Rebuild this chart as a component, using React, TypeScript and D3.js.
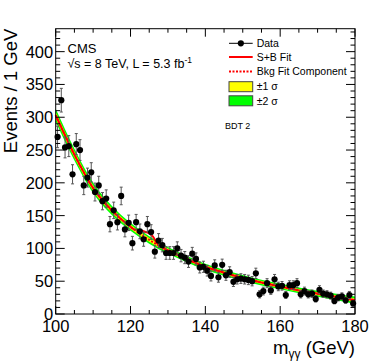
import React, { useRef, useEffect } from "react";
import * as d3 from "d3";

// observed events per 1 GeV bin, bins start at 100 GeV
const binStart = 100;
const dataCounts = [
  270, 326, 254, 256, 213, 259, 250, 196, 208, 216,
  186, 196, 172, 176, 137, 158, 140, 180, 129, 139,
  108, 140, 126, 114, 137, 125, 95, 112, 105, 93,
  93, 93, 100, 89, 86, 80, 92, 84, 71, 72,
  66, 58, 74, 56, 75, 59, 64, 49, 53, 54,
  53, 52, 50, 62, 30, 35, 47, 36, 53, 42,
  43, 29, 44, 44, 47, 30, 35, 30, 31, 23,
  37, 31, 30, 28, 20, 25, 27, 21, 29, 16,
];

const bkgMass = [100, 105, 110, 115, 120, 125, 130, 135, 140, 145, 150, 155, 160, 165, 170, 175, 180];
const bkgValues = [303, 243, 192, 158, 133, 113, 97, 84, 72, 63, 55, 48, 42, 36, 31, 26, 21];
const band1Half = [5, 4.5, 4, 3.5, 3, 3, 2.7, 2.5, 2.4, 2.3, 2.2, 2.2, 2.2, 2.2, 2.3, 2.5, 2.8];
const band2Half = [10, 9, 8, 7, 6, 5.7, 5.3, 5, 4.8, 4.6, 4.5, 4.4, 4.4, 4.4, 4.6, 5, 5.6];

// signal part of the S+B fit
const signalMass = [121, 122, 123, 124, 125, 126, 127, 128];
const signalValues = [0, 3, 6, 8, 10, 8, 2, 0];

const xTicks = [100, 120, 140, 160, 180];
const yTicks = [0, 50, 100, 150, 200, 250, 300, 350, 400];

const W = 374;
const H = 362;

const App = () => {
  const svgRef = useRef<SVGSVGElement>(null);

  useEffect(() => {
    const svg = d3.select(svgRef.current);
    svg.selectAll("*").remove();

    const left = 55.7;
    const right = 355;
    const top = 28.7;
    const bottom = 314;
    const font = "'Liberation Sans', Arial, Helvetica, sans-serif";

    const x = d3.scaleLinear().domain([100, 180]).range([left, right]);
    const y = d3.scaleLinear().domain([0, 435]).range([bottom, top]);

    const bkgAt = d3.scaleLinear().domain(bkgMass).range(bkgValues);
    const sigAt = d3.scaleLinear().domain(signalMass).range(signalValues).clamp(true);

    // bands
    const bandData = bkgMass.map((m, i) => ({ m, v: bkgValues[i], b1: band1Half[i], b2: band2Half[i] }));
    const area = (key: "b1" | "b2") =>
      d3
        .area<any>()
        .x((d) => x(d.m))
        .y0((d) => y(d.v - d[key]))
        .y1((d) => y(d.v + d[key]))
        .curve(d3.curveMonotoneX);

    svg.append("path").attr("d", area("b2")(bandData)).attr("fill", "#00ff00");
    svg.append("path").attr("d", area("b1")(bandData)).attr("fill", "#ffff00");

    // fit lines
    const line = d3
      .line<any>()
      .x((d) => x(d.m))
      .y((d) => y(d.v))
      .curve(d3.curveMonotoneX);

    const sbMass = Array.from(new Set([...bkgMass, ...signalMass])).sort((a, b) => a - b);
    const sbData = sbMass.map((m) => ({ m, v: bkgAt(m) + sigAt(m) }));

    svg
      .append("path")
      .attr("d", line(bandData))
      .attr("fill", "none")
      .attr("stroke", "#ff0000")
      .attr("stroke-width", 2)
      .attr("stroke-dasharray", "2,1.5");
    svg
      .append("path")
      .attr("d", line(sbData))
      .attr("fill", "none")
      .attr("stroke", "#ff0000")
      .attr("stroke-width", 2);

    // data points
    const pts = dataCounts.map((v, i) => ({ m: binStart + i + 0.5, v }));
    const g = svg.append("g");
    pts.forEach((d) => {
      const e = Math.sqrt(d.v);
      const cx = x(d.m);
      g.append("line")
        .attr("x1", cx).attr("x2", cx)
        .attr("y1", y(d.v - e)).attr("y2", y(d.v + e))
        .attr("stroke", "#555").attr("stroke-width", 1);
      [d.v - e, d.v + e].forEach((v) => {
        g.append("line")
          .attr("x1", cx - 1.5).attr("x2", cx + 1.5)
          .attr("y1", y(v)).attr("y2", y(v))
          .attr("stroke", "#555").attr("stroke-width", 1);
      });
      g.append("circle").attr("cx", cx).attr("cy", y(d.v)).attr("r", 3.1).attr("fill", "#000");
    });

    // frame and ticks
    svg
      .append("rect")
      .attr("x", left).attr("y", top)
      .attr("width", right - left).attr("height", bottom - top)
      .attr("fill", "none").attr("stroke", "#000").attr("stroke-width", 1);

    const ticks = svg.append("g").attr("stroke", "#000").attr("stroke-width", 1);
    d3.range(100, 180.1, 5).forEach((m) => {
      const len = m % 20 === 0 ? 8 : 4;
      ticks.append("line").attr("x1", x(m)).attr("x2", x(m)).attr("y1", bottom).attr("y2", bottom - len);
      ticks.append("line").attr("x1", x(m)).attr("x2", x(m)).attr("y1", top).attr("y2", top + len);
    });
    d3.range(0, 431, 10).forEach((v) => {
      const len = v % 50 === 0 ? 9 : 4.5;
      ticks.append("line").attr("x1", left).attr("x2", left + len).attr("y1", y(v)).attr("y2", y(v));
      ticks.append("line").attr("x1", right).attr("x2", right - len).attr("y1", y(v)).attr("y2", y(v));
    });

    svg
      .append("g")
      .selectAll("text")
      .data(xTicks)
      .join("text")
      .attr("x", (d) => x(d))
      .attr("y", 332)
      .attr("text-anchor", "middle")
      .attr("font-family", font)
      .attr("font-size", 16.5)
      .text((d) => d);

    svg
      .append("g")
      .selectAll("text")
      .data(yTicks)
      .join("text")
      .attr("x", left - 2.5)
      .attr("y", (d) => y(d))
      .attr("dy", "0.36em")
      .attr("text-anchor", "end")
      .attr("font-family", font)
      .attr("font-size", 16.5)
      .text((d) => d);

    // axis titles
    svg
      .append("text")
      .attr("transform", `translate(17,${top}) rotate(-90)`)
      .attr("text-anchor", "end")
      .attr("font-family", font)
      .attr("font-size", 18.5)
      .text("Events / 1 GeV");

    const xt = svg
      .append("text")
      .attr("x", right)
      .attr("y", 354)
      .attr("text-anchor", "end")
      .attr("font-family", font)
      .attr("font-size", 18.5);
    xt.append("tspan").text("m");
    xt.append("tspan").attr("font-size", 12).attr("dy", 4).text("γγ");
    xt.append("tspan").attr("dy", -4).text(" (GeV)");

    // CMS labels
    svg
      .append("text")
      .attr("x", 67.5).attr("y", 52.5)
      .attr("font-family", font).attr("font-size", 13)
      .text("CMS");
    const lumi = svg
      .append("text")
      .attr("x", 67.5).attr("y", 67.5)
      .attr("font-family", font).attr("font-size", 12.5);
    lumi.append("tspan").text("√s = 8 TeV, L = 5.3 fb");
    lumi.append("tspan").attr("font-size", 8.5).attr("dy", -5).text("-1");

    // legend
    const lx0 = 229;
    const lx1 = 252.7;
    const tx = 256.7;
    const leg = svg.append("g").attr("font-family", font).attr("font-size", 10.5);
    const rows = [
      { label: "Data", yc: 43.3 },
      { label: "S+B Fit", yc: 57 },
      { label: "Bkg Fit Component", yc: 71.5 },
      { label: "±1 σ", yc: 86.7 },
      { label: "±2 σ", yc: 100.8 },
    ];
    leg.append("line").attr("x1", lx0).attr("x2", lx1).attr("y1", rows[0].yc).attr("y2", rows[0].yc).attr("stroke", "#000");
    leg.append("circle").attr("cx", (lx0 + lx1) / 2).attr("cy", rows[0].yc).attr("r", 3.1).attr("fill", "#000");
    leg.append("line").attr("x1", lx0).attr("x2", lx1).attr("y1", rows[1].yc).attr("y2", rows[1].yc).attr("stroke", "#ff0000").attr("stroke-width", 2);
    leg
      .append("line")
      .attr("x1", lx0).attr("x2", lx1).attr("y1", rows[2].yc).attr("y2", rows[2].yc)
      .attr("stroke", "#ff0000").attr("stroke-width", 2).attr("stroke-dasharray", "2,1.5");
    leg.append("rect").attr("x", lx0).attr("y", rows[3].yc - 5).attr("width", lx1 - lx0).attr("height", 10).attr("fill", "#ffff00").attr("stroke", "#444");
    leg.append("rect").attr("x", lx0).attr("y", rows[4].yc - 5).attr("width", lx1 - lx0).attr("height", 10).attr("fill", "#00ff00").attr("stroke", "#444");
    leg
      .selectAll("text")
      .data(rows)
      .join("text")
      .attr("x", tx)
      .attr("y", (d) => d.yc)
      .attr("dy", "0.36em")
      .text((d) => d.label);

    svg
      .append("text")
      .attr("x", 225).attr("y", 126)
      .attr("dy", "0.36em")
      .attr("font-family", font).attr("font-size", 9)
      .text("BDT 2");
  }, []);

  return (
    <div style={{ position: "absolute", left: 0, top: 0 }}>
      <svg ref={svgRef} width={W} height={H} style={{ display: "block", background: "#fff" }}></svg>
    </div>
  );
};

export default App;
